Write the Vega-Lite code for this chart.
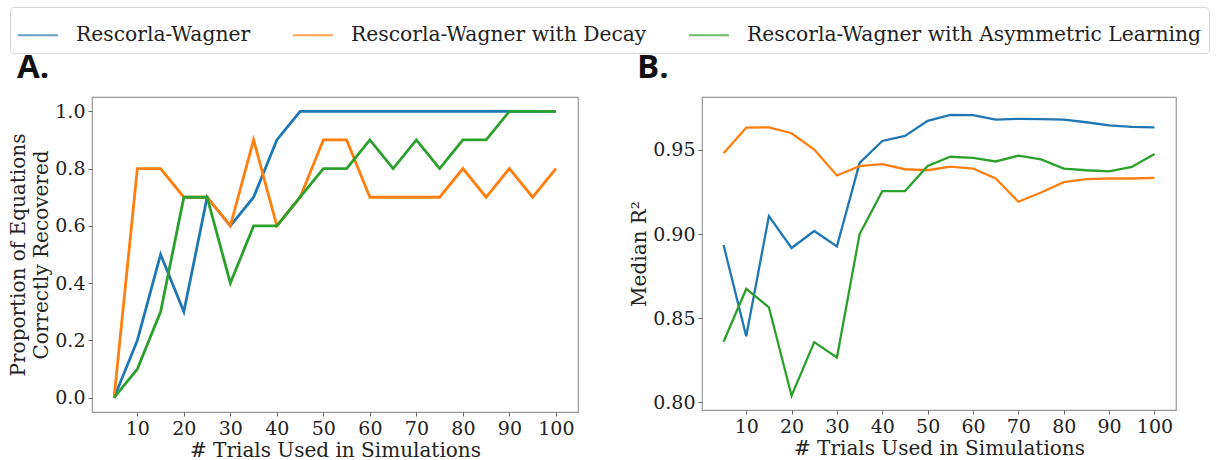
{
  "$schema": "https://vega.github.io/schema/vega-lite/v6.json",
  "background": "white",
  "padding": {"left": 8, "top": 6, "right": 2, "bottom": 2},
  "config": {
    "font": "DejaVu Serif",
    "view": {"stroke": "#999", "strokeWidth": 1.2},
    "axis": {"domain": false, "grid": false, "labelFont": "DejaVu Serif", "labelFontSize": 19, "labelColor": "#222", "titleFont": "DejaVu Serif", "titleFontSize": 20, "titleFontWeight": "normal", "titleColor": "#222", "tickColor": "#666", "tickSize": 4, "labelPadding": 3},
    "axisX": {"titlePadding": 2, "labelPadding": 3},
    "axisY": {"titlePadding": 3, "titleLineHeight": 23},
    "title": {"font": "Open Sans", "fontSize": 33, "fontWeight": "bold", "anchor": "start", "frame": "group", "color": "#111"}
  },
  "datasets": {
    "a": [
      {"trials":5,"model":"Rescorla-Wagner","value":0},{"trials":10,"model":"Rescorla-Wagner","value":0.2},{"trials":15,"model":"Rescorla-Wagner","value":0.5},{"trials":20,"model":"Rescorla-Wagner","value":0.3},{"trials":25,"model":"Rescorla-Wagner","value":0.7},{"trials":30,"model":"Rescorla-Wagner","value":0.6},{"trials":35,"model":"Rescorla-Wagner","value":0.7},{"trials":40,"model":"Rescorla-Wagner","value":0.9},{"trials":45,"model":"Rescorla-Wagner","value":1.0},{"trials":50,"model":"Rescorla-Wagner","value":1.0},{"trials":55,"model":"Rescorla-Wagner","value":1.0},{"trials":60,"model":"Rescorla-Wagner","value":1.0},{"trials":65,"model":"Rescorla-Wagner","value":1.0},{"trials":70,"model":"Rescorla-Wagner","value":1.0},{"trials":75,"model":"Rescorla-Wagner","value":1.0},{"trials":80,"model":"Rescorla-Wagner","value":1.0},{"trials":85,"model":"Rescorla-Wagner","value":1.0},{"trials":90,"model":"Rescorla-Wagner","value":1.0},{"trials":95,"model":"Rescorla-Wagner","value":1.0},{"trials":100,"model":"Rescorla-Wagner","value":1.0},
      {"trials":5,"model":"Rescorla-Wagner with Decay","value":0},{"trials":10,"model":"Rescorla-Wagner with Decay","value":0.8},{"trials":15,"model":"Rescorla-Wagner with Decay","value":0.8},{"trials":20,"model":"Rescorla-Wagner with Decay","value":0.7},{"trials":25,"model":"Rescorla-Wagner with Decay","value":0.7},{"trials":30,"model":"Rescorla-Wagner with Decay","value":0.6},{"trials":35,"model":"Rescorla-Wagner with Decay","value":0.9},{"trials":40,"model":"Rescorla-Wagner with Decay","value":0.6},{"trials":45,"model":"Rescorla-Wagner with Decay","value":0.7},{"trials":50,"model":"Rescorla-Wagner with Decay","value":0.9},{"trials":55,"model":"Rescorla-Wagner with Decay","value":0.9},{"trials":60,"model":"Rescorla-Wagner with Decay","value":0.7},{"trials":65,"model":"Rescorla-Wagner with Decay","value":0.7},{"trials":70,"model":"Rescorla-Wagner with Decay","value":0.7},{"trials":75,"model":"Rescorla-Wagner with Decay","value":0.7},{"trials":80,"model":"Rescorla-Wagner with Decay","value":0.8},{"trials":85,"model":"Rescorla-Wagner with Decay","value":0.7},{"trials":90,"model":"Rescorla-Wagner with Decay","value":0.8},{"trials":95,"model":"Rescorla-Wagner with Decay","value":0.7},{"trials":100,"model":"Rescorla-Wagner with Decay","value":0.8},
      {"trials":5,"model":"Rescorla-Wagner with Asymmetric Learning","value":0},{"trials":10,"model":"Rescorla-Wagner with Asymmetric Learning","value":0.1},{"trials":15,"model":"Rescorla-Wagner with Asymmetric Learning","value":0.3},{"trials":20,"model":"Rescorla-Wagner with Asymmetric Learning","value":0.7},{"trials":25,"model":"Rescorla-Wagner with Asymmetric Learning","value":0.7},{"trials":30,"model":"Rescorla-Wagner with Asymmetric Learning","value":0.4},{"trials":35,"model":"Rescorla-Wagner with Asymmetric Learning","value":0.6},{"trials":40,"model":"Rescorla-Wagner with Asymmetric Learning","value":0.6},{"trials":45,"model":"Rescorla-Wagner with Asymmetric Learning","value":0.7},{"trials":50,"model":"Rescorla-Wagner with Asymmetric Learning","value":0.8},{"trials":55,"model":"Rescorla-Wagner with Asymmetric Learning","value":0.8},{"trials":60,"model":"Rescorla-Wagner with Asymmetric Learning","value":0.9},{"trials":65,"model":"Rescorla-Wagner with Asymmetric Learning","value":0.8},{"trials":70,"model":"Rescorla-Wagner with Asymmetric Learning","value":0.9},{"trials":75,"model":"Rescorla-Wagner with Asymmetric Learning","value":0.8},{"trials":80,"model":"Rescorla-Wagner with Asymmetric Learning","value":0.9},{"trials":85,"model":"Rescorla-Wagner with Asymmetric Learning","value":0.9},{"trials":90,"model":"Rescorla-Wagner with Asymmetric Learning","value":1.0},{"trials":95,"model":"Rescorla-Wagner with Asymmetric Learning","value":1.0},{"trials":100,"model":"Rescorla-Wagner with Asymmetric Learning","value":1.0}
    ],
    "b": [
      {"trials":5,"model":"Rescorla-Wagner","value":0.8935},{"trials":10,"model":"Rescorla-Wagner","value":0.8393},{"trials":15,"model":"Rescorla-Wagner","value":0.9107},{"trials":20,"model":"Rescorla-Wagner","value":0.8917},{"trials":25,"model":"Rescorla-Wagner","value":0.9018},{"trials":30,"model":"Rescorla-Wagner","value":0.8927},{"trials":35,"model":"Rescorla-Wagner","value":0.9423},{"trials":40,"model":"Rescorla-Wagner","value":0.9553},{"trials":45,"model":"Rescorla-Wagner","value":0.9583},{"trials":50,"model":"Rescorla-Wagner","value":0.9672},{"trials":55,"model":"Rescorla-Wagner","value":0.9708},{"trials":60,"model":"Rescorla-Wagner","value":0.9706},{"trials":65,"model":"Rescorla-Wagner","value":0.968},{"trials":70,"model":"Rescorla-Wagner","value":0.9684},{"trials":75,"model":"Rescorla-Wagner","value":0.9682},{"trials":80,"model":"Rescorla-Wagner","value":0.968},{"trials":85,"model":"Rescorla-Wagner","value":0.9664},{"trials":90,"model":"Rescorla-Wagner","value":0.9646},{"trials":95,"model":"Rescorla-Wagner","value":0.9636},{"trials":100,"model":"Rescorla-Wagner","value":0.9634},
      {"trials":5,"model":"Rescorla-Wagner with Decay","value":0.948},{"trials":10,"model":"Rescorla-Wagner with Decay","value":0.9632},{"trials":15,"model":"Rescorla-Wagner with Decay","value":0.9634},{"trials":20,"model":"Rescorla-Wagner with Decay","value":0.9599},{"trials":25,"model":"Rescorla-Wagner with Decay","value":0.9502},{"trials":30,"model":"Rescorla-Wagner with Decay","value":0.9348},{"trials":35,"model":"Rescorla-Wagner with Decay","value":0.9403},{"trials":40,"model":"Rescorla-Wagner with Decay","value":0.9415},{"trials":45,"model":"Rescorla-Wagner with Decay","value":0.9385},{"trials":50,"model":"Rescorla-Wagner with Decay","value":0.9379},{"trials":55,"model":"Rescorla-Wagner with Decay","value":0.9401},{"trials":60,"model":"Rescorla-Wagner with Decay","value":0.9389},{"trials":65,"model":"Rescorla-Wagner with Decay","value":0.933},{"trials":70,"model":"Rescorla-Wagner with Decay","value":0.9192},{"trials":75,"model":"Rescorla-Wagner with Decay","value":0.9247},{"trials":80,"model":"Rescorla-Wagner with Decay","value":0.9308},{"trials":85,"model":"Rescorla-Wagner with Decay","value":0.9326},{"trials":90,"model":"Rescorla-Wagner with Decay","value":0.933},{"trials":95,"model":"Rescorla-Wagner with Decay","value":0.933},{"trials":100,"model":"Rescorla-Wagner with Decay","value":0.9334},
      {"trials":5,"model":"Rescorla-Wagner with Asymmetric Learning","value":0.836},{"trials":10,"model":"Rescorla-Wagner with Asymmetric Learning","value":0.8674},{"trials":15,"model":"Rescorla-Wagner with Asymmetric Learning","value":0.8565},{"trials":20,"model":"Rescorla-Wagner with Asymmetric Learning","value":0.804},{"trials":25,"model":"Rescorla-Wagner with Asymmetric Learning","value":0.8358},{"trials":30,"model":"Rescorla-Wagner with Asymmetric Learning","value":0.8267},{"trials":35,"model":"Rescorla-Wagner with Asymmetric Learning","value":0.9},{"trials":40,"model":"Rescorla-Wagner with Asymmetric Learning","value":0.9255},{"trials":45,"model":"Rescorla-Wagner with Asymmetric Learning","value":0.9255},{"trials":50,"model":"Rescorla-Wagner with Asymmetric Learning","value":0.9405},{"trials":55,"model":"Rescorla-Wagner with Asymmetric Learning","value":0.9459},{"trials":60,"model":"Rescorla-Wagner with Asymmetric Learning","value":0.9453},{"trials":65,"model":"Rescorla-Wagner with Asymmetric Learning","value":0.9431},{"trials":70,"model":"Rescorla-Wagner with Asymmetric Learning","value":0.9466},{"trials":75,"model":"Rescorla-Wagner with Asymmetric Learning","value":0.9443},{"trials":80,"model":"Rescorla-Wagner with Asymmetric Learning","value":0.9389},{"trials":85,"model":"Rescorla-Wagner with Asymmetric Learning","value":0.9379},{"trials":90,"model":"Rescorla-Wagner with Asymmetric Learning","value":0.9372},{"trials":95,"model":"Rescorla-Wagner with Asymmetric Learning","value":0.9399},{"trials":100,"model":"Rescorla-Wagner with Asymmetric Learning","value":0.9476}
    ]
  },
  "spacing": 50,
  "resolve": {"scale": {"color": "shared", "x": "independent", "y": "independent"}, "legend": {"color": "shared"}},
  "hconcat": [
    {
      "width": 486, "height": 315,
      "title": {"text": "A.", "dx": -75, "offset": 12},
      "data": {"name": "a"},
      "mark": {"type": "line", "strokeWidth": 2.8},
      "encoding": {
        "x": {"field": "trials", "type": "quantitative", "scale": {"domain": [0.25, 104.75], "nice": false, "zero": false}, "axis": {"values": [10,20,30,40,50,60,70,80,90,100], "format": "d", "title": "# Trials Used in Simulations"}},
        "y": {"field": "value", "type": "quantitative", "scale": {"domain": [-0.05, 1.05], "nice": false, "zero": false}, "axis": {"values": [0,0.2,0.4,0.6,0.8,1.0], "format": ".1f", "title": ["Proportion of Equations", "Correctly Recovered"]}},
        "color": {"field": "model", "type": "nominal",
          "scale": {"domain": ["Rescorla-Wagner", "Rescorla-Wagner with Decay", "Rescorla-Wagner with Asymmetric Learning"], "range": ["#1f77b4", "#ff7f0e", "#2ca02c"]},
          "legend": {"orient": "none", "legendX": -82, "legendY": -90, "direction": "horizontal", "title": null, "symbolType": "stroke", "symbolSize": 1600, "symbolStrokeWidth": 2, "symbolOpacity": 0.7, "labelFont": "DejaVu Serif", "labelFontSize": 20.3, "labelColor": "#222", "labelOffset": 17, "columnPadding": 38, "padding": 7, "strokeColor": "#d5d5d5", "fillColor": "white", "cornerRadius": 4, "labelLimit": 600}}
      }
    },
    {
      "width": 474, "height": 313,
      "title": {"text": "B.", "dx": -65, "offset": 12},
      "data": {"name": "b"},
      "mark": {"type": "line", "strokeWidth": 2.3},
      "encoding": {
        "x": {"field": "trials", "type": "quantitative", "scale": {"domain": [0.25, 104.75], "nice": false, "zero": false}, "axis": {"values": [10,20,30,40,50,60,70,80,90,100], "format": "d", "title": "# Trials Used in Simulations"}},
        "y": {"field": "value", "type": "quantitative", "scale": {"domain": [0.7955, 0.9814], "nice": false, "zero": false}, "axis": {"values": [0.80,0.85,0.90,0.95], "format": ".2f", "title": "Median R²"}},
        "color": {"field": "model", "type": "nominal"}
      }
    }
  ]
}
